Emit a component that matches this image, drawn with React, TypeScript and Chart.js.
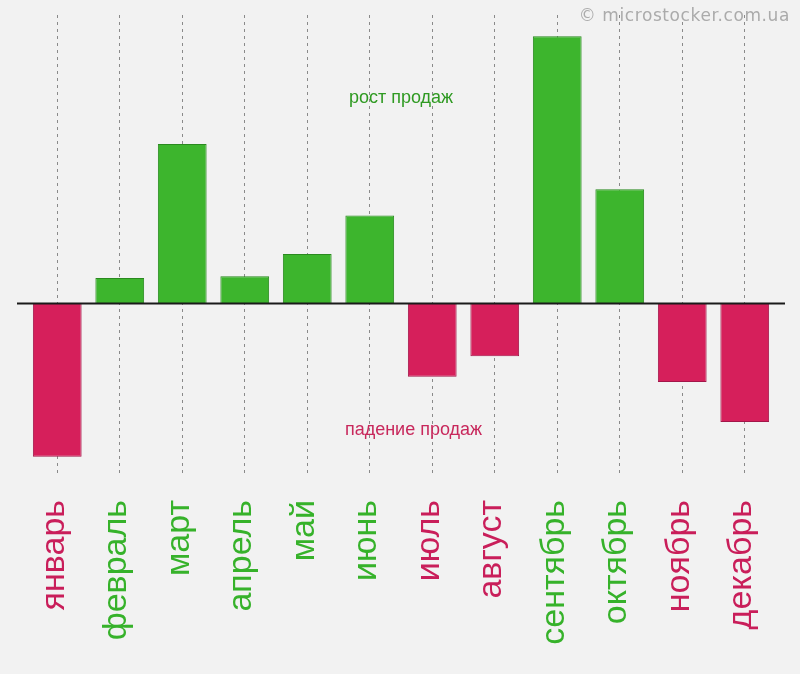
import React, { useEffect, useRef } from "react";
import { Chart, registerables } from "chart.js";

Chart.register(...registerables);

const months = [
  "январь", "февраль", "март", "апрель", "май", "июнь",
  "июль", "август", "сентябрь", "октябрь", "ноябрь", "декабрь",
];
const sales = [-5.77, 0.94, 5.96, 1.0, 1.84, 3.28, -2.77, -2.0, 10.0, 4.27, -2.96, -4.46];
const growthText = "рост продаж";
const fallText = "падение продаж";
const watermarkText = "© microstocker.com.ua";

const GREEN = "#3db52d";
const GREEN_BORDER = "#2a8a1f";
const RED = "#d61f5b";
const RED_BORDER = "#a3164a";
const GREEN_TEXT = "#36b22a";
const RED_TEXT = "#c91e5a";

const zeroLinePlugin = {
  id: "zeroLine",
  afterDatasetsDraw(chart: any) {
    const { ctx, chartArea, scales } = chart;
    const y = Math.round(scales.y.getPixelForValue(0)) + 0.5;
    ctx.save();
    ctx.strokeStyle = "#1a1a1a";
    ctx.lineWidth = 2;
    ctx.beginPath();
    ctx.moveTo(chartArea.left - 9, y);
    ctx.lineTo(chartArea.right + 9, y);
    ctx.stroke();
    ctx.restore();
  },
};

const annotationPlugin = {
  id: "annotations",
  afterDraw(chart: any) {
    const { ctx, scales } = chart;
    ctx.save();
    ctx.font = "18px 'Liberation Sans', Arial, sans-serif";
    ctx.textAlign = "center";
    ctx.textBaseline = "middle";
    ctx.fillStyle = "#2f9a22";
    ctx.fillText(growthText, scales.x.getPixelForValue(5.5), scales.y.getPixelForValue(7.7));
    ctx.fillStyle = "#c8285c";
    ctx.fillText(fallText, scales.x.getPixelForValue(5.7), scales.y.getPixelForValue(-4.77));
    ctx.restore();
  },
};

export default function App() {
  const ref = useRef<HTMLCanvasElement | null>(null);

  useEffect(() => {
    document.body.style.margin = "0";
    document.body.style.background = "#f2f2f2";
    const canvas = ref.current;
    if (!canvas) return;
    const chart = new Chart(canvas, {
      type: "bar",
      data: {
        labels: months,
        datasets: [
          {
            data: sales,
            backgroundColor: sales.map((v) => (v < 0 ? RED : GREEN)),
            borderColor: sales.map((v) => (v < 0 ? RED_BORDER : GREEN_BORDER)),
            borderWidth: 1,
            barPercentage: 0.78,
            categoryPercentage: 1,
          },
        ],
      },
      options: {
        responsive: false,
        animation: false,
        layout: { padding: { top: 15, left: 26, right: 24, bottom: 0 } },
        plugins: {
          legend: { display: false },
          tooltip: { enabled: false },
          title: { display: false },
        },
        scales: {
          x: {
            grid: {
              offset: false,
              drawTicks: false,
              color: "#8a8a8a",
              lineWidth: 1,
            },
            border: { display: false, dash: [3, 4] },
            afterFit: (s: any) => {
              s.height = 199;
              s.paddingLeft = 0;
              s.paddingRight = 0;
            },
            ticks: {
              autoSkip: false,
              maxRotation: 90,
              minRotation: 90,
              padding: 25,
              labelOffset: -3,
              font: { size: 34, family: "'Liberation Sans', Arial, sans-serif" },
              color: (ctx: any) => (sales[ctx.index] < 0 ? RED_TEXT : GREEN_TEXT),
            },
          },
          y: {
            display: false,
            min: -6.45,
            max: 10.8,
          },
        },
      },
      plugins: [zeroLinePlugin, annotationPlugin],
    });
    return () => chart.destroy();
  }, []);

  return (
    <div style={{ position: "relative", width: 800, height: 674, background: "#f2f2f2" }}>
      <canvas ref={ref} width={800} height={674} style={{ display: "block" }} />
      <div
        style={{
          position: "absolute",
          top: 5,
          right: 10,
          color: "#ababab",
          fontFamily: "'DejaVu Sans', sans-serif",
          fontSize: 17,
          letterSpacing: 0.6,
        }}
      >
        {watermarkText}
      </div>
    </div>
  );
}
